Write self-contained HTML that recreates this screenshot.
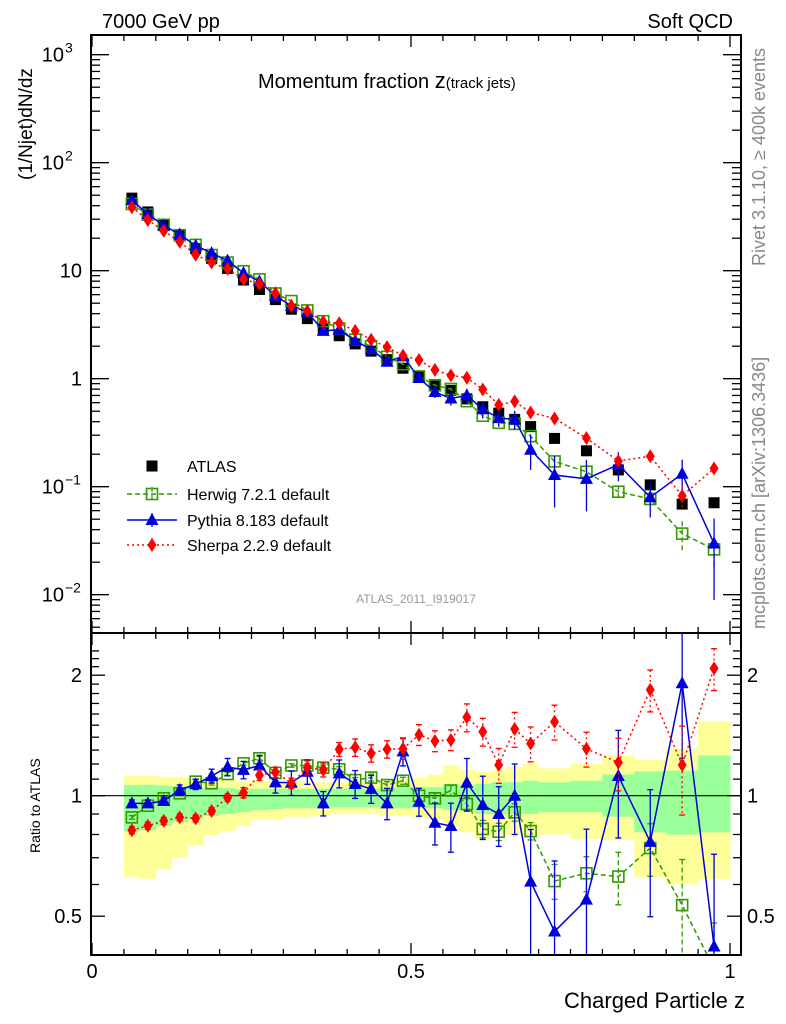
<!DOCTYPE html>
<html><head><meta charset="utf-8">
<style>
html,body{margin:0;padding:0;background:#fff;overflow:hidden;width:786px;height:1024px;}
svg{display:block;font-family:"Liberation Sans",sans-serif;}
</style></head>
<body>
<svg id="chart" width="786" height="1024" viewBox="0 0 786 1024" xmlns="http://www.w3.org/2000/svg">
<text x="102" y="28" font-size="20">7000 GeV pp</text>
<text x="733" y="28" font-size="20" text-anchor="end">Soft QCD</text>
<text x="258" y="88" font-size="20">Momentum fraction <tspan font-size="22">z</tspan><tspan font-size="15">(track jets)</tspan></text>
<text transform="translate(765,266) rotate(-90)" font-size="18" fill="#888">Rivet 3.1.10, ≥ 400k events</text>
<text transform="translate(765,629) rotate(-90)" font-size="18" fill="#888">mcplots.cern.ch [arXiv:1306.3436]</text>
<text x="416" y="603" font-size="12" fill="#999" text-anchor="middle">ATLAS_2011_I919017</text>
<text transform="translate(32,180) rotate(-90)" font-size="19">(1/Njet)dN/dz</text>
<text transform="translate(40,853) rotate(-90)" font-size="14">Ratio to ATLAS</text>
<text x="745" y="1008" font-size="22" text-anchor="end">Charged Particle z</text>
<g id="g"></g>
</svg>
<script>
const zCenters=[0.0625,0.0875,0.1125,0.1375,0.1625,0.1875,0.2125,0.2375,0.2625,0.2875,0.3125,0.3375,0.3625,0.3875,0.4125,0.4375,0.4625,0.4875,0.5125,0.5375,0.5625,0.5875,0.6125,0.6375,0.6625,0.6875,0.725,0.775,0.825,0.875,0.925,0.975];
const zWidths=[0.025,0.025,0.025,0.025,0.025,0.025,0.025,0.025,0.025,0.025,0.025,0.025,0.025,0.025,0.025,0.025,0.025,0.025,0.025,0.025,0.025,0.025,0.025,0.025,0.025,0.025,0.05,0.05,0.05,0.05,0.05,0.05];
const atlas=[47,35,27,21,16,13,10.5,8.2,6.7,5.4,4.4,3.6,2.9,2.5,2.1,1.8,1.5,1.25,1.05,0.88,0.78,0.65,0.55,0.48,0.42,0.36,0.28,0.215,0.143,0.104,0.069,0.071];
const herwigRatio=[0.883,0.944,0.985,1.014,1.084,1.074,1.133,1.205,1.24,1.14,1.19,1.19,1.175,1.164,1.094,1.11,1.063,1.09,1.0,0.985,1.03,0.953,0.826,0.813,0.909,0.816,0.612,0.64,0.628,0.74,0.533,0.37];
const pythiaRatio=[0.957,0.957,0.97,1.033,1.068,1.12,1.18,1.16,1.19,1.08,1.077,1.148,0.957,1.137,1.07,1.04,0.957,1.29,0.966,0.856,0.84,1.077,0.948,0.9,1.0,0.61,0.458,0.55,1.12,0.767,1.91,0.42];
const sherpaRatio=[0.82,0.841,0.865,0.883,0.878,0.916,0.989,1.017,1.126,1.144,1.074,1.175,1.16,1.306,1.32,1.276,1.306,1.31,1.42,1.37,1.378,1.57,1.445,1.193,1.468,1.35,1.53,1.31,1.21,1.84,1.193,2.08];
const herwigErr=[0.01,0.01,0.01,0.01,0.01,0.01,0.01,0.01,0.01,0.01,0.01,0.01,0.015,0.015,0.015,0.02,0.02,0.02,0.03,0.03,0.03,0.04,0.05,0.05,0.05,0.05,0.1,0.1,0.15,0.15,0.3,0.3];
const pythiaErr=[0.02,0.02,0.02,0.03,0.03,0.04,0.05,0.05,0.06,0.06,0.07,0.07,0.07,0.08,0.08,0.08,0.09,0.08,0.08,0.12,0.14,0.15,0.18,0.17,0.2,0.35,0.5,0.5,0.3,0.35,0.35,0.7];
const sherpaErr=[0.02,0.02,0.02,0.02,0.02,0.02,0.02,0.03,0.03,0.03,0.03,0.04,0.04,0.04,0.05,0.05,0.05,0.06,0.06,0.06,0.06,0.08,0.08,0.1,0.1,0.1,0.1,0.1,0.15,0.12,0.25,0.12];
const yelLo=[0.625,0.62,0.656,0.70,0.753,0.798,0.816,0.841,0.87,0.87,0.886,0.886,0.895,0.9,0.9,0.9,0.89,0.89,0.88,0.87,0.84,0.81,0.78,0.80,0.80,0.79,0.80,0.78,0.775,0.626,0.60,0.62];
const yelHi=[1.12,1.12,1.115,1.11,1.105,1.10,1.095,1.09,1.09,1.085,1.085,1.08,1.08,1.08,1.08,1.08,1.09,1.10,1.11,1.13,1.19,1.16,1.15,1.16,1.18,1.20,1.17,1.20,1.26,1.23,1.31,1.53];
const grnLo=[0.813,0.82,0.84,0.86,0.875,0.89,0.90,0.91,0.92,0.925,0.93,0.93,0.935,0.935,0.935,0.935,0.93,0.93,0.93,0.93,0.92,0.92,0.90,0.90,0.90,0.90,0.91,0.91,0.886,0.81,0.80,0.81];
const grnHi=[1.063,1.065,1.06,1.055,1.05,1.05,1.045,1.04,1.04,1.04,1.04,1.04,1.04,1.04,1.04,1.04,1.045,1.05,1.05,1.05,1.07,1.06,1.07,1.08,1.08,1.09,1.08,1.09,1.13,1.15,1.155,1.26];

const NS='http://www.w3.org/2000/svg';
const G=document.getElementById('g');
function mk(tag,attrs,parent){const e=document.createElementNS(NS,tag);for(const k in attrs)e.setAttribute(k,attrs[k]);(parent||G).appendChild(e);return e;}
const L=91,R=741,MT=35,MB=633,RB=955;
const X=z=>92+638*z;
const Y=v=>378.7-108*Math.log10(v);
const RY=r=>795.7-120.5*Math.log2(r);
const clipM=mk('clipPath',{id:'cm'});mk('rect',{x:L,y:MT,width:R-L,height:MB-MT},clipM);
const clipR=mk('clipPath',{id:'cr'});mk('rect',{x:L,y:MB,width:R-L,height:RB-MB},clipR);

const bands=mk('g',{'clip-path':'url(#cr)'});


zCenters.forEach((z,i)=>{
 const x0=X(z-zWidths[i]/2),x1=X(z+zWidths[i]/2);
 const y=mk('rect',{x:x0,y:RY(yelHi[i]),width:x1-x0+0.5,height:RY(yelLo[i])-RY(yelHi[i]),fill:'#ffff99'},bands);
 
 
 const g=mk('rect',{x:x0,y:RY(grnHi[i]),width:x1-x0+0.5,height:RY(grnLo[i])-RY(grnHi[i]),fill:'#99ff99'},bands);
 
 
});
const one=mk('line',{x1:L,x2:R,y1:RY(1),y2:RY(1),stroke:'#000','stroke-width':1.2});



function marker(type,cx,cy,parent){
 let e;
 if(type==='sq')e=mk('rect',{x:cx-5.5,y:cy-5.5,width:11,height:11,fill:'#000'},parent);
 else if(type==='osq')e=mk('rect',{x:cx-5.5,y:cy-5.5,width:11,height:11,fill:'none',stroke:'#339900','stroke-width':1.6},parent);
 else if(type==='tri')e=mk('polygon',{points:`${cx},${cy-7} ${cx-6.5},${cy+5} ${cx+6.5},${cy+5}`,fill:'#0000dd'},parent);
 else e=mk('polygon',{points:`${cx},${cy-7} ${cx+4.5},${cy} ${cx},${cy+7} ${cx-4.5},${cy}`,fill:'#ff0000'},parent);
 return e;
}
const series=[
 {name:'herwig',ratio:herwigRatio,err:herwigErr,color:'#339900',dash:'5,3',m:'osq'},
 {name:'pythia',ratio:pythiaRatio,err:pythiaErr,color:'#0000dd',dash:'',m:'tri'},
 {name:'sherpa',ratio:sherpaRatio,err:sherpaErr,color:'#ff0000',dash:'2,3',m:'dia'}
];
const main=mk('g',{'clip-path':'url(#cm)'});


zCenters.forEach((z,i)=>{
 const m=marker('sq',X(z),Y(atlas[i]),main);
 
 
});
series.forEach(s=>{
 const vals=zCenters.map((z,i)=>atlas[i]*s.ratio[i]);
 const pl=mk('polyline',{points:zCenters.map((z,i)=>X(z)+','+Y(vals[i])).join(' '),fill:'none',stroke:s.color,'stroke-width':1.5,'stroke-dasharray':s.dash},main);
 
 
 zCenters.forEach((z,i)=>{
  const v=vals[i],e=s.err[i];
  const eb=mk('line',{x1:X(z),x2:X(z),y1:Y(v*(1+e)),y2:Y(Math.max(v*(1-e),1e-4)),stroke:s.color,'stroke-width':1.3,'stroke-dasharray':s.dash},main);
  
  
  const m=marker(s.m,X(z),Y(v),main);
  
  
 });
});
const rat=mk('g',{'clip-path':'url(#cr)'});


series.forEach(s=>{
 const pl=mk('polyline',{points:zCenters.map((z,i)=>X(z)+','+RY(s.ratio[i])).join(' '),fill:'none',stroke:s.color,'stroke-width':1.5,'stroke-dasharray':s.dash},rat);
 
 
 zCenters.forEach((z,i)=>{
  const r=s.ratio[i],e=s.err[i];
  const eb=mk('line',{x1:X(z),x2:X(z),y1:RY(r*(1+e)),y2:RY(Math.max(r*(1-e),0.05)),stroke:s.color,'stroke-width':1.3,'stroke-dasharray':s.dash},rat);
  
  
  [r*(1+e),Math.max(r*(1-e),0.05)].forEach(v=>{
   const c=mk('line',{x1:X(z)-3,x2:X(z)+3,y1:RY(v),y2:RY(v),stroke:s.color,'stroke-width':1.3},rat);
   
   
  });
  const m=marker(s.m,X(z),RY(r),rat);
  
  
 });
});
[[MT,MB,'main-frame'],[MB,RB,'ratio-frame']].forEach(f=>{
 const r=mk('rect',{x:L,y:f[0],width:R-L,height:f[1]-f[0],fill:'none',stroke:'#000','stroke-width':2});
 
 
});
const xMinor=[];for(let k=0;k<=20;k++)xMinor.push(k*0.05);
xMinor.forEach(z=>{
 const major=Math.abs(z*2-Math.round(z*2))<1e-6;
 const len=major?12:6;
 [[MT,1],[MB,-1],[MB,1],[RB,-1]].forEach(([y0,d])=>{
  const t=mk('line',{x1:X(z),x2:X(z),y1:y0,y2:y0+d*len,stroke:'#000','stroke-width':1.3});
  
  
 });
});
const xLabels=['0','0.5','1'];const xLabelVals=[0,0.5,1];
xLabels.forEach((s,i)=>{
 const t=mk('text',{x:X(xLabelVals[i]),y:978,'font-size':20,'text-anchor':'middle'});t.textContent=s;
 
 
});
for(let d=-3;d<=3;d++){for(let m=1;m<=9;m++){
 const v=m*Math.pow(10,d),y=Y(v);if(y<MT||y>MB)continue;
 const len=m===1?18:9;
 [[L,1],[R,-1]].forEach(([x0,dir])=>{
  const t=mk('line',{x1:x0,x2:x0+dir*len,y1:y,y2:y,stroke:'#000','stroke-width':1.3});
  
  
 });
}}
const yLabels=[['10','3'],['10','2'],['10',''],['1',''],['10','−1'],['10','−2']];
const yLabelVals=[1000,100,10,1,0.1,0.01];
yLabels.forEach((s,i)=>{
 const t=mk('text',{x:s[1]?64:82,y:Y(yLabelVals[i])+7,'font-size':20,'text-anchor':'end'});
 t.textContent=s[0];
 
 
 if(s[1]){const sp=mk('text',{x:65,y:Y(yLabelVals[i])-2,'font-size':14},G);sp.textContent=s[1];
 
 }
});
const rTicks=[0.5,0.6,0.7,0.8,0.9,1,1.1,1.2,1.3,1.4,1.5,1.6,1.7,1.8,1.9,2,2.1,2.2,2.3];
rTicks.forEach(r=>{
 const y=RY(r);if(y<MB||y>RB)return;
 const major=(r===0.5||r===1||r===2);
 [[L,1],[R,-1]].forEach(([x0,dir])=>{
  const t=mk('line',{x1:x0,x2:x0+dir*(major?14:8),y1:y,y2:y,stroke:'#000','stroke-width':1.3});
  
  
 });
});
const rLabels=['0.5','1','2'];const rLabelVals=[0.5,1,2];
rLabels.forEach((s,i)=>{
 const a=mk('text',{x:82,y:RY(rLabelVals[i])+7,'font-size':20,'text-anchor':'end'});a.textContent=s;
 
 
 const b=mk('text',{x:747,y:RY(rLabelVals[i])+7,'font-size':20});b.textContent=s;
 
 
});
const legNames=['ATLAS','Herwig 7.2.1 default','Pythia 8.183 default','Sherpa 2.2.9 default'];
const legY=[466,494,520,545];
const legM=['sq','osq','tri','dia'];const legC=['#000','#339900','#0000dd','#ff0000'];const legD=['','5,3','','2,3'];
legNames.forEach((n,i)=>{
 const g=mk('g',{});
 
 
 if(i>0){mk('line',{x1:127,x2:177,y1:legY[i],y2:legY[i],stroke:legC[i],'stroke-width':1.5,'stroke-dasharray':legD[i]},g);
  mk('line',{x1:152,x2:152,y1:legY[i]-7,y2:legY[i]+7,stroke:legC[i],'stroke-width':1.3,'stroke-dasharray':legD[i]},g);}
 marker(legM[i],152,legY[i],g);
 const t=mk('text',{x:187,y:legY[i]+6,'font-size':16},g);t.textContent=n;
});
</script>
</body></html>
